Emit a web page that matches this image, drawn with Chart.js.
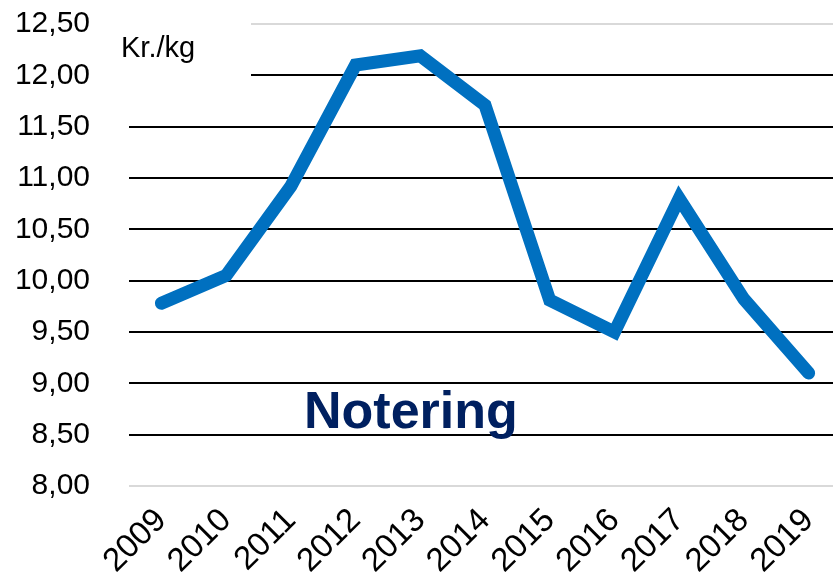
<!DOCTYPE html>
<html>
<head>
<meta charset="utf-8">
<script src="https://cdn.jsdelivr.net/npm/chart.js@4"></script>
<style>
  html, body { margin: 0; padding: 0; background: #fff; overflow: hidden; }
  #wrap { width: 842px; height: 578px; }
</style>
</head>
<body>
<div id="wrap"><canvas id="c" width="842" height="578"></canvas></div>
<script>
// Yearly price series (kr. per kg)
const years = ['2009','2010','2011','2012','2013','2014','2015','2016','2017','2018','2019'];
const notering = [9.78, 10.05, 10.92, 12.10, 12.19, 11.71, 9.81, 9.50, 10.80, 9.82, 9.10];
const yMin = 8.0;
const yMax = 12.5;
const yStep = 0.5;
const unitLabel = 'Kr./kg';
const seriesLabel = 'Notering';

const FONT = '"Liberation Sans", Arial, sans-serif';

// Unit caption sits in a white box over the top-left of the grid; series name below the line
const captions = {
  id: 'captions',
  beforeDatasetsDraw(chart) {
    const ctx = chart.ctx;
    const area = chart.chartArea;
    ctx.save();
    ctx.fillStyle = '#fff';
    ctx.fillRect(area.left, 0, 122, 90);
    ctx.fillStyle = '#000';
    ctx.font = '29px ' + FONT;
    ctx.textBaseline = 'alphabetic';
    ctx.textAlign = 'left';
    ctx.fillText(unitLabel, 121, 57);
    ctx.restore();
  },
  afterDatasetsDraw(chart) {
    const ctx = chart.ctx;
    ctx.save();
    ctx.fillStyle = '#002060';
    ctx.font = 'bold 52px ' + FONT;
    ctx.textBaseline = 'alphabetic';
    ctx.textAlign = 'left';
    ctx.fillText(seriesLabel, 304, 428);
    ctx.restore();
  }
};

new Chart(document.getElementById('c'), {
  type: 'line',
  data: {
    labels: years,
    datasets: [{
      label: seriesLabel,
      data: notering,
      borderColor: '#0070C0',
      backgroundColor: '#0070C0',
      borderWidth: 13,
      borderCapStyle: 'round',
      borderJoinStyle: 'miter',
      tension: 0,
      pointRadius: 0,
      pointHoverRadius: 0,
      fill: false
    }]
  },
  options: {
    responsive: false,
    animation: false,
    events: [],
    layout: { padding: { top: 24, right: 1, left: 0, bottom: 0 } },
    plugins: {
      legend: { display: false },
      tooltip: { enabled: false }
    },
    scales: {
      x: {
        offset: true,
        grid: { display: false, drawTicks: false },
        border: { display: false },
        ticks: {
          color: '#000',
          font: { family: FONT, size: 33 },
          minRotation: 45,
          maxRotation: 45,
          autoSkip: false,
          padding: 15
        },
        afterFit(scale) {
          scale.height = 92;
          scale.paddingLeft = 0;
          scale.paddingRight = 0;
        }
      },
      y: {
        min: yMin,
        max: yMax,
        grid: {
          drawTicks: false,
          lineWidth: 2,
          color(ctx) {
            const v = ctx.tick && ctx.tick.value;
            return (Math.abs(v - yMin) < 1e-6 || Math.abs(v - yMax) < 1e-6) ? '#d9d9d9' : '#000';
          }
        },
        border: { display: false },
        ticks: {
          stepSize: yStep,
          color: '#000',
          padding: 39,
          font: { family: FONT, size: 30 },
          callback(v) { return Number(v).toFixed(2).replace('.', ','); }
        },
        afterFit(scale) {
          scale.width = 129;
          scale.paddingTop = 0;
          scale.paddingBottom = 0;
        }
      }
    }
  },
  plugins: [captions]
});
</script>
</body>
</html>
